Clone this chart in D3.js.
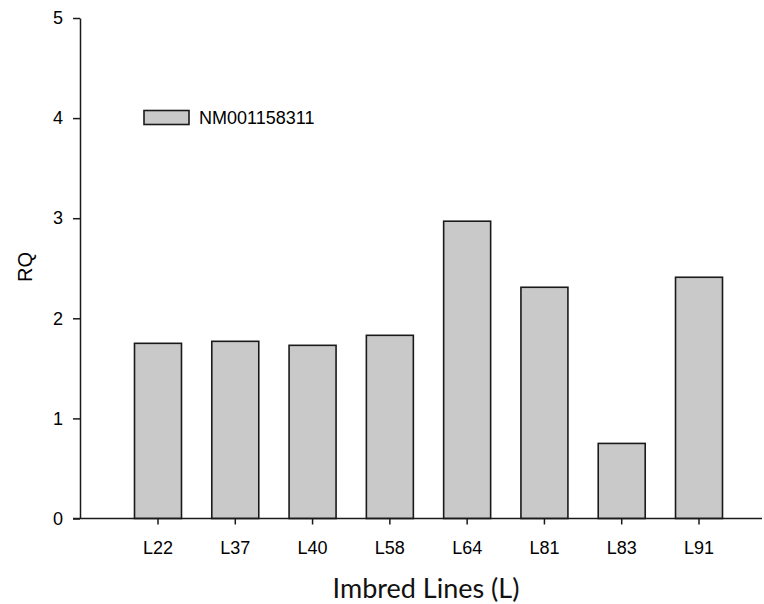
<!DOCTYPE html>
<html><head><meta charset="utf-8">
<script src="https://cdn.jsdelivr.net/npm/d3@7"></script>
<style>body{margin:0;background:#fff;} svg{display:block;}</style>
</head><body>
<script>
const categories = ["L22","L37","L40","L58","L64","L81","L83","L91"];
const values = [1.75, 1.77, 1.73, 1.83, 2.97, 2.31, 0.75, 2.41];
const yTicks = [0,1,2,3,4,5];
const seriesName = "NM001158311";
const xTitle = "Imbred Lines (L)";
const yTitle = "RQ";

const W = 764, H = 604;
const svg = d3.select("body").append("svg").attr("width", W).attr("height", H);
const axX = 80, axEnd = 762, yTop = 18, yBot = 518.5;
const x = d3.scaleBand().domain(categories).range([134.5, 722.5]).paddingInner(0.392).paddingOuter(0);
const y = d3.scaleLinear().domain([0,5]).range([yBot, yTop]);
const ink = "#1a1a1a";
const sans = "Liberation Sans, Arial, sans-serif";

// bars
svg.append("g").selectAll("rect").data(categories).join("rect")
  .attr("x", d => x(d)).attr("width", x.bandwidth())
  .attr("y", (d,i) => y(values[i])).attr("height", (d,i) => y(0) - y(values[i]))
  .attr("fill", "#c9c9c9").attr("stroke", ink).attr("stroke-width", 1.6);

// y axis
const ya = svg.append("g").attr("transform", `translate(${axX},0)`)
  .call(d3.axisLeft(y).tickValues(yTicks).tickFormat(d3.format("d")).tickSize(7).tickSizeOuter(0).tickPadding(10));
ya.select(".domain").attr("stroke", ink).attr("stroke-width", 1.5);
ya.selectAll(".tick line").attr("stroke", ink).attr("stroke-width", 1.5);
ya.selectAll("text").attr("font-family", sans).attr("font-size", 18).attr("fill", "#000");

// x axis
const xa = svg.append("g").attr("transform", `translate(0,${yBot})`)
  .call(d3.axisBottom(x).tickSize(6).tickSizeOuter(0).tickPadding(17));
xa.select(".domain").remove();
xa.append("line").attr("x1", axX - 7).attr("x2", axEnd).attr("stroke", ink).attr("stroke-width", 1.5);
xa.selectAll(".tick line").attr("stroke", ink).attr("stroke-width", 1.5);
xa.selectAll("text").attr("font-family", sans).attr("font-size", 18).attr("fill", "#000");

// titles
svg.append("text").attr("x", 426).attr("y", 598).attr("text-anchor", "middle")
  .attr("font-family", "Lato, sans-serif").attr("font-size", 27).attr("fill", "#111").text(xTitle);
svg.append("text").attr("transform", "translate(32,267) rotate(-90)").attr("text-anchor", "middle")
  .attr("font-family", sans).attr("font-size", 20).attr("fill", "#000").text(yTitle);

// legend
const lg = svg.append("g");
lg.append("rect").attr("x", 144).attr("y", 110.5).attr("width", 45).attr("height", 14)
  .attr("fill", "#c9c9c9").attr("stroke", ink).attr("stroke-width", 1.6);
lg.append("text").attr("x", 199).attr("y", 124).attr("font-family", sans)
  .attr("font-size", 18).attr("fill", "#000").text(seriesName);
</script>
</body></html>
